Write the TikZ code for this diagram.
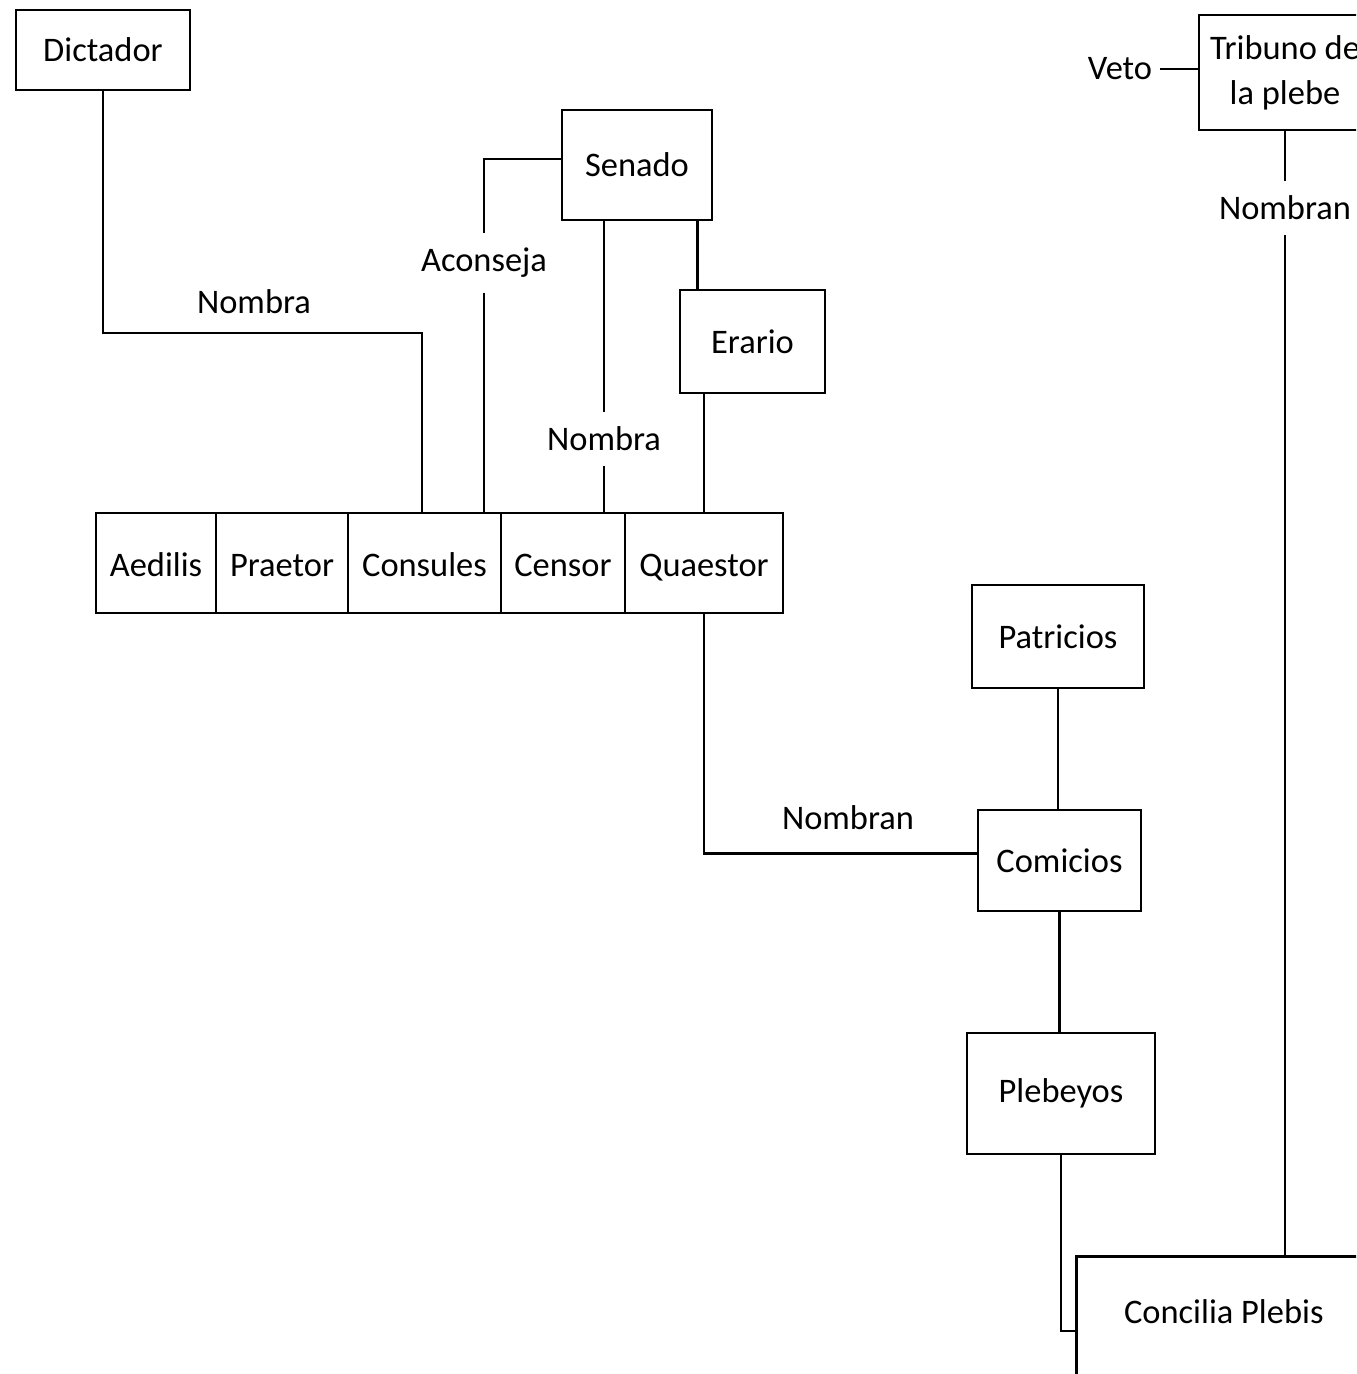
\documentclass[tikz,border=0pt]{standalone}
\usepackage{fontspec}
\setmainfont{Carlito}
\begin{document}
\begin{tikzpicture}[
	caja/.style={draw, line width=0.75pt, inner sep=0pt, align=center},
	fila/.style={caja, minimum height=1.00cm, text height=2.2ex, text depth=0.5ex},
	etiqueta/.style={inner sep=4pt},
	linea/.style={line width=0.75pt}
	]
			\fontsize{9.8}{12.8}\selectfont
			\useasboundingbox (0,0) rectangle (13.56,-13.74);
			\clip (0,0) rectangle (13.56,-13.74);
			\node[caja, minimum width=1.74cm, minimum height=0.8cm] (dict) at (1.03,-0.50) {Dictador};
			\node[caja, minimum width=1.50cm, minimum height=1.10cm] (sen) at (6.37,-1.65) {Senado};
			\node[caja, minimum width=1.45cm, minimum height=1.03cm] (erar) at (7.525,-3.415) {Erario};
			\node[fila, minimum width=1.20cm] (aed) at (1.56,-5.63) {Aedilis};
			\node[fila, minimum width=1.32cm] (pra) at (2.82,-5.63) {Praetor};
			\node[fila, minimum width=1.53cm] (cons) at (4.245,-5.63) {Consules};
			\node[fila, minimum width=1.24cm] (cens) at (5.63,-5.63) {Censor};
			\node[fila, minimum width=1.58cm] (quae) at (7.04,-5.63) {Quaestor};
			\node[caja, minimum width=1.72cm, minimum height=1.03cm] (patr) at (10.58,-6.365) {Patricios};
			\node[caja, minimum width=1.63cm, minimum height=1.01cm] (comi) at (10.595,-8.605) {Comicios};
			\node[caja, minimum width=1.88cm, minimum height=1.21cm] (pleb) at (10.61,-10.935) {Plebeyos};
			\node[caja, minimum width=1.72cm, minimum height=1.15cm] (trib) at (12.85,-0.725) {Tribuno de\\la plebe};
			\node[caja, anchor=north west, minimum width=2.95cm, inner ysep=0.2cm, text height=0.47cm, text depth=1.0cm] (conc) at (10.75,-12.55) {Concilia Plebis};
			\node[etiqueta] (nom1) at (2.54,-3.02) {Nombra};
			\node[etiqueta] (acon) at (4.84,-2.63) {Aconseja};
			\node[etiqueta] (nom2) at (6.04,-4.39) {Nombra};
			\node[etiqueta] (nom3) at (8.48,-8.18) {Nombran};
			\node[etiqueta] (nom4) at (12.85,-2.08) {Nombran};
			\node[inner sep=2pt] (veto) at (11.20,-0.69) {Veto};
			\coordinate (k1) at (4.22,-3.33);
			\draw[linea] (dict.south) |- (k1) -- (k1 |- cons.north);
			\draw[linea] ([yshift=0.06cm]sen.west) -| (acon.north);
			\draw[linea] (acon.south) -- (acon.south |- cons.north);
			\draw[linea] (nom2.north |- sen.south) -- (nom2.north);
			\draw[linea] (nom2.south) -- (nom2.south |- cens.north);
			\draw[linea] ([xshift=-0.16cm]sen.south east) -- ([xshift=-0.16cm]sen.south east |- erar.north);
			\draw[linea] (quae.north |- erar.south) -- (quae.north);
			\draw[linea] (quae.south) |- ([yshift=0.07cm]comi.west);
			\draw[linea] (patr.south) -- (patr.south |- comi.north);
			\draw[linea] (comi.south) -- (comi.south |- pleb.north);
			\draw[linea] (pleb.south) |- ([yshift=-0.76cm]conc.north west);
			\draw[linea] (trib.south) -- (nom4.north);
			\draw[linea] (nom4.south) -- (nom4.south |- conc.north);
			\draw[linea] (veto.east) -- (veto.east -| trib.west);
\end{tikzpicture}
\end{document}
